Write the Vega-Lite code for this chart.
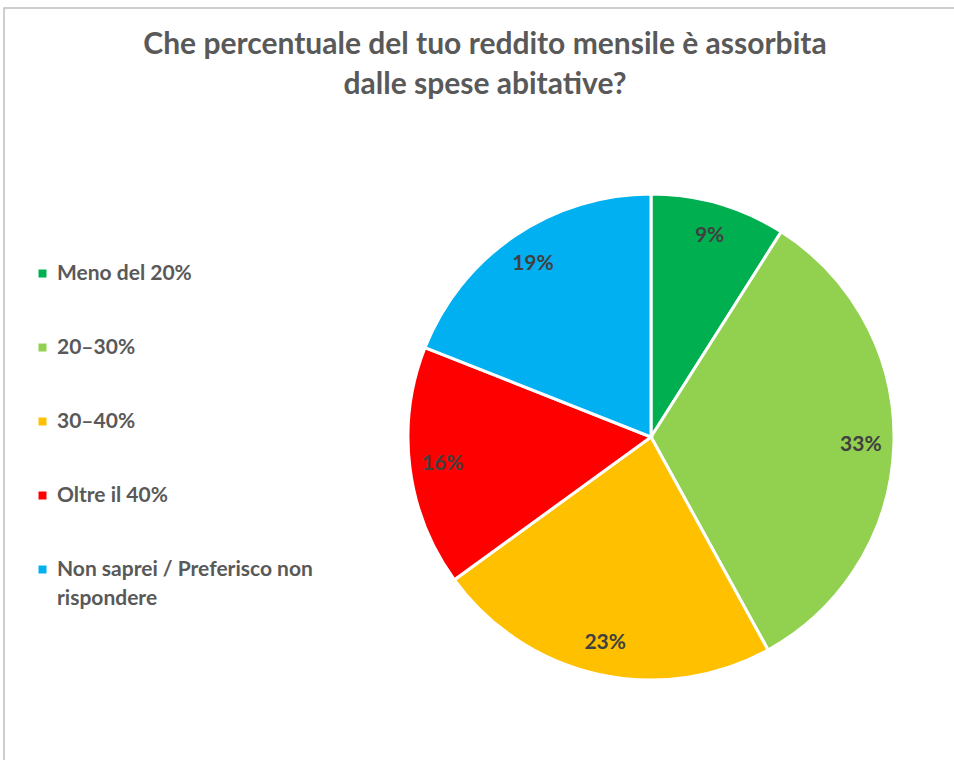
{
  "$schema": "https://vega.github.io/schema/vega-lite/v6.json",
  "width": 956,
  "height": 758,
  "autosize": {"type": "none"},
  "padding": {"left": 4, "top": 8, "right": -6, "bottom": -6},
  "background": "white",
  "view": {"stroke": "#bfbfbf", "strokeWidth": 1.5},
  "config": {
    "font": "Lato",
    "style": {"guide-label": {"lineHeight": 29}}
  },
  "title": {
    "text": ["Che percentuale del tuo reddito mensile è assorbita", "dalle spese abitative?"],
    "anchor": "middle",
    "frame": "group",
    "offset": -92,
    "dx": 3,
    "fontSize": 30,
    "fontWeight": "bold",
    "font": "Lato",
    "color": "#595959",
    "lineHeight": 40
  },
  "data": {
    "values": [
      {"categoria": "Meno del 20%", "valore": 9, "ordine": 1, "etichetta": "9%"},
      {"categoria": "20–30%", "valore": 33, "ordine": 2, "etichetta": "33%"},
      {"categoria": "30–40%", "valore": 23, "ordine": 3, "etichetta": "23%"},
      {"categoria": "Oltre il 40%", "valore": 16, "ordine": 4, "etichetta": "16%"},
      {"categoria": "Non saprei / Preferisco non rispondere", "valore": 19, "ordine": 5, "etichetta": "19%"}
    ]
  },
  "encoding": {
    "theta": {"field": "valore", "type": "quantitative", "stack": true},
    "order": {"field": "ordine", "type": "quantitative"}
  },
  "layer": [
    {
      "mark": {"type": "arc", "outerRadius": 243, "x": 647, "y": 429, "stroke": "white", "strokeWidth": 3},
      "encoding": {
        "color": {
          "field": "categoria",
          "type": "nominal",
          "sort": ["Meno del 20%", "20–30%", "30–40%", "Oltre il 40%", "Non saprei / Preferisco non rispondere"],
          "scale": {
            "domain": ["Meno del 20%", "20–30%", "30–40%", "Oltre il 40%", "Non saprei / Preferisco non rispondere"],
            "range": ["#00B050", "#92D050", "#FFC000", "#FF0000", "#00B0F0"]
          },
          "legend": {
            "orient": "none",
            "legendX": 28,
            "legendY": 255,
            "title": null,
            "symbolType": "square",
            "symbolSize": 64,
            "symbolStrokeWidth": 0,
            "labelFontSize": 21,
            "labelFont": "Lato",
            "labelFontWeight": "bold",
            "labelColor": "#595959",
            "labelOffset": 4,
            "labelLimit": 400,
            "rowPadding": 52,
            "labelExpr": "datum.label == 'Non saprei / Preferisco non rispondere' ? ['Non saprei / Preferisco non', 'rispondere'] : datum.label"
          }
        }
      }
    },
    {
      "mark": {"type": "text", "radius": 210, "x": 647, "y": 430, "fontSize": 21, "fontWeight": "bold", "font": "Lato", "color": "#404040"},
      "encoding": {
        "text": {"field": "etichetta", "type": "nominal"}
      }
    }
  ]
}
